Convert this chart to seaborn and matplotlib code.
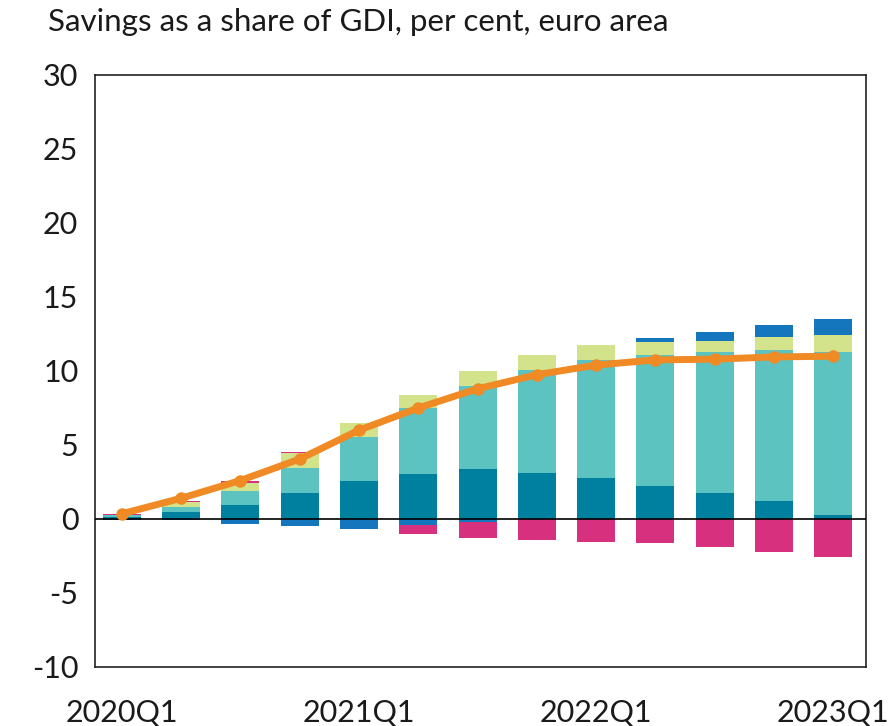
import numpy as np
import pandas as pd
import seaborn as sns
import matplotlib.pyplot as plt

# quarters 2020Q1 .. 2023Q1
quarters = ['2020Q1', '2020Q2', '2020Q3', '2020Q4',
            '2021Q1', '2021Q2', '2021Q3', '2021Q4',
            '2022Q1', '2022Q2', '2022Q3', '2022Q4', '2023Q1']
tick_labels = ['2020Q1', '2021Q1', '2022Q1', '2023Q1']

dark_teal = [0.15, 0.5, 0.95, 1.75, 2.55, 3.05, 3.4, 3.1, 2.75, 2.2, 1.75, 1.2, 0.25]
light_teal = [0.1, 0.3, 0.95, 1.7, 3.0, 4.45, 5.6, 7.0, 8.0, 8.9, 9.55, 10.2, 11.05]
yellow = [0.05, 0.35, 0.55, 1.0, 0.95, 0.9, 1.0, 1.0, 1.0, 0.85, 0.75, 0.9, 1.15]
blue = [-0.1, -0.1, -0.35, -0.5, -0.7, -0.4, -0.2, 0.0, 0.0, 0.25, 0.6, 0.8, 1.05]
magenta = [0.05, 0.1, 0.15, 0.1, 0.0, -0.6, -1.1, -1.4, -1.55, -1.6, -1.9, -2.2, -2.55]
savings = [0.35, 1.4, 2.6, 4.05, 6.0, 7.5, 8.8, 9.75, 10.4, 10.75, 10.8, 10.95, 11.0]

components = [
    (dark_teal, '#00809f'),
    (light_teal, '#5cc3c0'),
    (yellow, '#d3e38c'),
    (blue, '#1476bd'),
    (magenta, '#d6307f'),
]

sns.set_theme(style="white")
plt.rcParams['font.family'] = ['Lato', 'DejaVu Sans']
plt.rcParams['axes.unicode_minus'] = False

fig = plt.figure(figsize=(8.92, 7.26), dpi=100)
ax = fig.add_axes([95 / 892, 1 - 667 / 726, (866 - 95) / 892, (667 - 75) / 726])

x = np.arange(len(quarters))
pos_base = np.zeros(len(quarters))
neg_base = np.zeros(len(quarters))
for values, color in components:
    v = np.array(values)
    bottom = np.where(v >= 0, pos_base, neg_base)
    ax.bar(x, v, width=0.64, bottom=bottom, color=color, linewidth=0, zorder=2)
    pos_base += np.where(v >= 0, v, 0)
    neg_base += np.where(v < 0, v, 0)

ax.axhline(0, color='black', linewidth=1.2, zorder=3)

df = pd.DataFrame({'x': x, 'savings': savings})
sns.lineplot(data=df, x='x', y='savings', ax=ax, color='#f08a24', linewidth=5,
             marker='o', markersize=9, markeredgewidth=0, zorder=4)

ax.set_xlim(-0.45, 12.55)
ax.set_ylim(-10, 30)
ax.set_yticks(range(-10, 31, 5))
ax.set_xticks([0, 4, 8, 12])
ax.set_xticklabels(tick_labels)
ax.set_xlabel('')
ax.set_ylabel('')
ax.tick_params(axis='both', length=0, labelsize=22, colors='#1a1a1a')
ax.tick_params(axis='x', pad=23)
ax.tick_params(axis='y', pad=12)
for s in ax.spines.values():
    s.set_color('#222222')
    s.set_linewidth(1.2)

fig.text(48 / 892, 1 - 22 / 726, 'Savings as a share of GDI, per cent, euro area',
         fontsize=22.5, va='center', ha='left', color='#1a1a1a')

fig.savefig('out.png', dpi=100)
